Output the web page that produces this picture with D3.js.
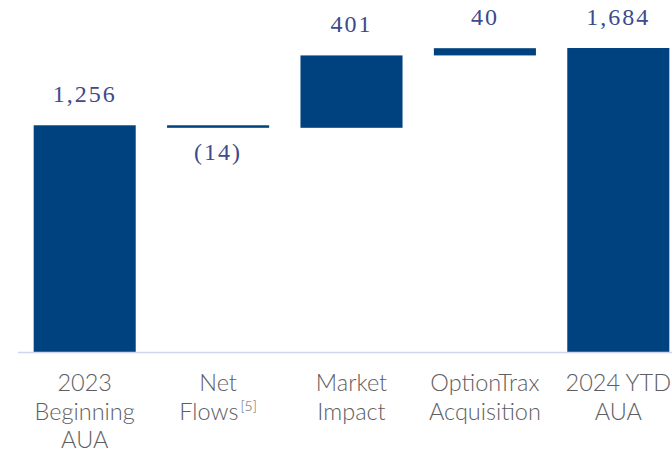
<!DOCTYPE html>
<html>
<head>
<meta charset="utf-8">
<script src="https://cdn.jsdelivr.net/npm/d3@7"></script>
<style>
  body { margin: 0; background: #fff; }
  svg { display: block; }
</style>
</head>
<body>
<svg width="672" height="453"></svg>
<script>
// waterfall steps
const categories = [
  ["2023", "Beginning", "AUA"],
  ["Net", "Flows"],
  ["Market", "Impact"],
  ["OptionTrax", "Acquisition"],
  ["2024 YTD", "AUA"]
];
const stepValues = [1256, -14, 401, 40, 1684];
const stepKinds = ["total", "delta", "delta", "delta", "total"];
const valueLabels = ["1,256", "(14)", "401", "40", "1,684"];

const svg = d3.select("svg");
const width = 672;
const baseY = 352;

const barColor = "#00427f";
const labelColor = "#3d4a8c";
const catColor = "#5e5e62";

// build start/end for every bar
let running = 0;
const bars = stepValues.map((v, i) => {
  let start, end;
  if (stepKinds[i] == "total") {
    start = 0;
    end = v;
    running = v;
  } else {
    start = running;
    end = running + v;
    running = end;
  }
  return { i: i, value: v, start: start, end: end, label: valueLabels[i] };
});

const x = d3
  .scaleBand()
  .domain(d3.range(categories.length))
  .range([18, 685])
  .paddingInner(0.235)
  .paddingOuter(0.1175);

const y = d3.scaleLinear().domain([0, 1950]).range([baseY, 0]);

// bars
svg
  .selectAll("rect.bar")
  .data(bars)
  .enter()
  .append("rect")
  .attr("class", "bar")
  .attr("x", d => x(d.i))
  .attr("width", x.bandwidth())
  .attr("y", d => y(Math.max(d.start, d.end)))
  .attr("height", d => Math.max(2.5, Math.abs(y(d.start) - y(d.end))))
  .attr("fill", barColor);

// baseline
svg
  .append("line")
  .attr("x1", 18)
  .attr("x2", width)
  .attr("y1", baseY + 0.5)
  .attr("y2", baseY + 0.5)
  .attr("stroke", "#cfd5ea")
  .attr("stroke-width", 1.5);

// value labels
svg
  .selectAll("text.val")
  .data(bars)
  .enter()
  .append("text")
  .attr("class", "val")
  .attr("x", d => x(d.i) + x.bandwidth() / 2)
  .attr("y", d =>
    d.value < 0 ? y(Math.min(d.start, d.end)) + 32 : y(Math.max(d.start, d.end)) - 23
  )
  .attr("text-anchor", "middle")
  .style("font-family", "'Liberation Serif', serif")
  .style("font-size", "24px")
  .style("letter-spacing", "2px")
  .attr("fill", labelColor)
  .text(d => d.label);

// category labels
const cats = svg
  .selectAll("text.cat")
  .data(categories)
  .enter()
  .append("text")
  .attr("class", "cat")
  .attr("text-anchor", "middle")
  .style("font-family", "Lato, 'Open Sans', sans-serif")
  .style("font-size", "23.5px")
  .style("font-weight", 300)
  .attr("fill", catColor);

cats.each(function(lines, i) {
  const t = d3.select(this);
  lines.forEach((line, j) => {
    t.append("tspan")
      .attr("x", x(i) + x.bandwidth() / 2)
      .attr("y", 391 + j * 28.5)
      .text(line);
    if (i == 1 && j == 1) {
      // footnote marker
      t.append("tspan")
        .attr("dy", -9)
        .attr("dx", 2)
        .style("font-size", "14px")
        .text("[5]");
    }
  });
});
</script>
</body>
</html>
